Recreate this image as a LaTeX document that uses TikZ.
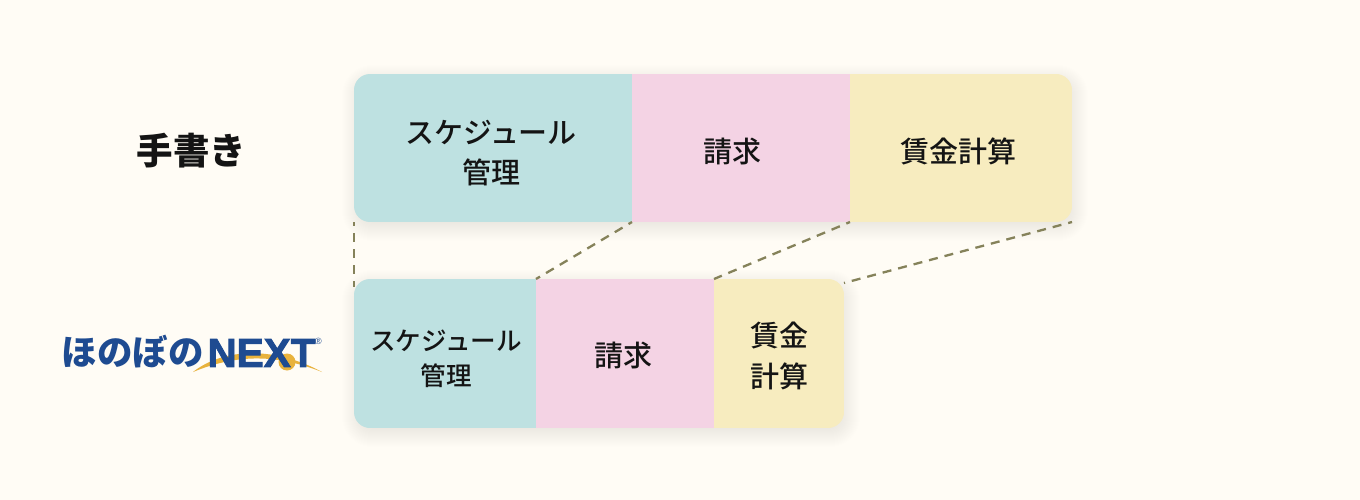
\documentclass[tikz,border=0pt]{standalone}
\usepackage{fontspec}
\setmainfont{Noto Sans CJK JP}
\newfontfamily\jpMedium{Noto Sans CJK JP Medium}
\newfontfamily\kanaHeavy{Noto Sans CJK JP Black}
\newfontfamily\latinHeavy[FakeBold=2.2]{Liberation Sans Bold}
\newfontfamily\latinPlain{Liberation Sans}
\usetikzlibrary{positioning}
\definecolor{paperColor}{RGB}{255,252,245}
\definecolor{scheduleColor}{RGB}{190,225,225}
\definecolor{billingColor}{RGB}{244,211,228}
\definecolor{wageColor}{RGB}{247,236,191}
\definecolor{linkColor}{RGB}{133,130,90}
\definecolor{inkColor}{RGB}{20,20,20}
\definecolor{logoBlue}{RGB}{30,75,145}
\definecolor{logoGold}{RGB}{232,178,60}
\tikzstyle{diagram} = [x = 1pt, y = -1pt]
\tikzstyle{frameStyle} = [inner sep = 0pt, outer sep = 0pt, minimum height = 148pt]
\tikzstyle{cardText} = [inner sep = 0pt, text = inkColor, align = center]
\tikzstyle{topText} = [cardText, font = \jpMedium\fontsize{29}{40}\selectfont]
\tikzstyle{smallText} = [cardText, font = \jpMedium\fontsize{25.6}{35}\selectfont]
\tikzstyle{linkLine} = [color = linkColor, line width = 2.3pt, dash pattern = on 9pt off 7pt, dash phase = 5pt]
\tikzstyle{shadowLayer} = [black, opacity = .004]
\newcommand{\softShadow}[4]{
  \foreach \grow in {-8,...,14} {
    \pgfmathsetmacro{\arc}{16 + max(\grow, 0)}
    \fill [shadowLayer, rounded corners = \arc pt] (#1 + 2 - \grow, #2 + 5 - \grow) rectangle (#3 + 2 + \grow, #4 + 5 + \grow);
  }
}
\newcommand{\cardSegments}[6]{
  \begin{scope}
    \clip [rounded corners = 16pt] (#1, #2) rectangle (#5, #6);
    \fill [scheduleColor] (#1, #2) rectangle (#3, #6);
    \fill [billingColor] (#3, #2) rectangle (#4, #6);
    \fill [wageColor] (#4, #2) rectangle (#5, #6);
  \end{scope}
}
\begin{document}
\begin{tikzpicture}[diagram]
  \useasboundingbox [fill = paperColor] (0, 0) rectangle (1360, 500);

  \softShadow{354}{74}{1072}{222}
  \softShadow{354}{279}{844}{428}
  \cardSegments{354}{74}{632}{850}{1072}{222}
  \cardSegments{354}{279}{536}{714}{844}{428}

  \node [frameStyle, minimum width = 278pt] (scheduleTop) at (493, 148) {};
  \node [frameStyle, minimum width = 218pt] (billingTop) at (741, 148) {};
  \node [frameStyle, minimum width = 222pt] (wageTop) at (961, 148) {};
  \node [frameStyle, minimum width = 182pt] (scheduleBottom) at (445, 353) {};
  \node [frameStyle, minimum width = 178pt] (billingBottom) at (625, 353) {};
  \node [frameStyle, minimum width = 130pt] (wageBottom) at (779, 353) {};

  \node [topText] (scheduleTopText) at (491, 153.5) {スケジュール\\管理};
  \node [topText] (billingTopText) at (732.5, 151.5) {請求};
  \node [topText] (wageTopText) at (958, 151.5) {賃金計算};
  \node [smallText] (scheduleBottomText) at (446, 359) {スケジュール\\管理};
  \node [topText] (billingBottomText) at (623, 355.5) {請求};
  \node [topText, font = \jpMedium\fontsize{29}{41}\selectfont] (wageBottomText) at (779.5, 355.5) {賃金\\計算};

  \node [text = inkColor, font = \bfseries\fontsize{36.5}{37}\selectfont, inner sep = 0pt] (handLabel) at (191.5, 151) {手書き};

  % logo
  \fill [logoGold] (193, 372) .. controls (222, 349) and (272, 345) .. (322, 372) .. controls (272, 352) and (232, 356) .. (193, 372) -- cycle;
  \fill [logoGold] (287, 362) circle (8.5);
  \node [text = logoBlue, font = \kanaHeavy\fontsize{35.5}{36}\selectfont, inner sep = 0pt] (logoKana) at (132.5, 352) {ほのぼの};
  \node [text = logoBlue, font = \latinHeavy\fontsize{40.5}{41}\selectfont, inner sep = 0pt] (logoWord) at (261.5, 353) {NEXT};
  \node [text = logoBlue, font = \latinPlain\fontsize{9}{9}\selectfont, inner sep = 0pt] (logoMark) at (318.5, 341) {®};

  \draw [linkLine, shorten > = -8pt] (scheduleTop.south west) -- (scheduleBottom.north west);
  \draw [linkLine] (billingTop.south west) -- (billingBottom.north west);
  \draw [linkLine] (wageTop.south west) -- (wageBottom.north west);
  \draw [linkLine] (wageTop.south east) -- ([yshift = -4pt]wageBottom.north east);
\end{tikzpicture}
\end{document}
